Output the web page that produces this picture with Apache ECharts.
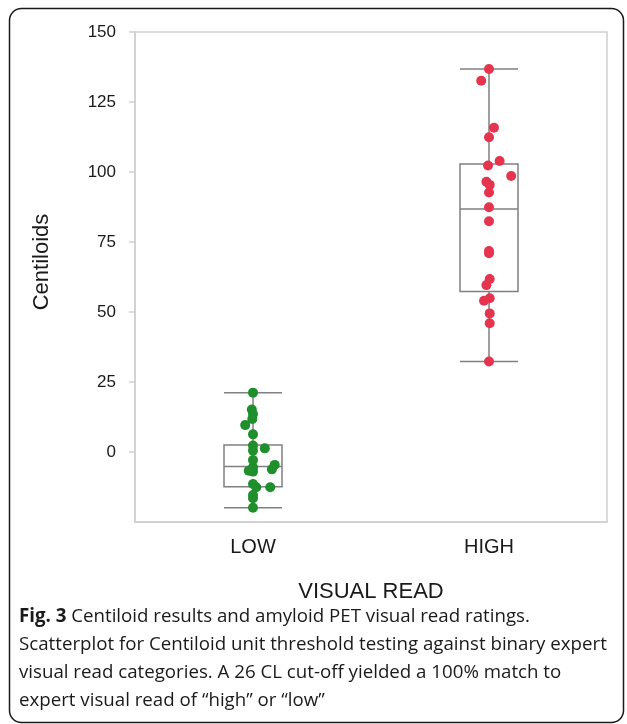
<!DOCTYPE html>
<html>
<head>
<meta charset="utf-8">
<script src="https://cdn.jsdelivr.net/npm/echarts@6/dist/echarts.min.js"></script>
<style>
html,body{margin:0;padding:0;background:#fff;}
#chart{width:627px;height:724px;}
</style>
</head>
<body>
<div id="chart"></div>
<script>
// ---- Data ----
var categories = ['LOW', 'HIGH'];
var yTicks = [0, 25, 50, 75, 100, 125, 150];

// Box summaries: [min, Q1, median, Q3, max]
var lowBox = [-19.9, -12.4, -5.2, 2.5, 21.2];
var highBox = [32.3, 57.3, 86.8, 102.9, 136.8];

// Individual points (Centiloids) and horizontal jitter (fraction of category band)
var lowValues  = [21.2, 15.2, 13.6, 11.8, 9.6, 6.3, 2.3, 1.3, 0.5, -2.9, -4.6, -5.5, -6.2, -6.7, -7.0, -11.4, -12.6, -12.6, -15.4, -16.5, -19.9];
var lowJitter  = [0, -0.005, 0, -0.003, -0.033, 0, 0, 0.050, 0, 0, 0.092, 0, 0.080, -0.018, 0, 0, 0.014, 0.073, 0, 0, 0];
var highValues = [136.8, 132.6, 115.8, 112.4, 103.9, 102.3, 98.6, 96.5, 95.4, 92.7, 87.4, 82.4, 71.8, 71.0, 61.8, 59.6, 54.9, 54.0, 49.5, 46.0, 32.3];
var highJitter = [0, -0.033, 0.021, 0, 0.045, -0.004, 0.094, -0.011, 0.003, 0, 0, 0, 0, 0, 0.003, -0.011, 0.003, -0.021, 0.003, 0.003, 0];

var captionLines = [
  ['Fig. 3', ' Centiloid results and amyloid PET visual read ratings.'],
  ['', 'Scatterplot for Centiloid unit threshold testing against binary expert'],
  ['', 'visual read categories. A 26 CL cut-off yielded a 100% match to'],
  ['', 'expert visual read of \u201chigh\u201d or \u201clow\u201d']
];

function points(values, jitter, idx) {
  return values.map(function (v, i) { return [idx + 0.5 + jitter[i], v]; });
}

var captionText = captionLines.map(function (l) {
  return (l[0] ? '{b|' + l[0] + '}' : '') + '{n|' + l[1] + '}';
}).join('\n');

var chart = echarts.init(document.getElementById('chart'), null, {renderer: 'canvas'});
var axisFont = 'Liberation Sans, Arial, sans-serif';
chart.setOption({
  animation: false,
  backgroundColor: '#fff',
  grid: {
    left: 135, top: 32, right: 20, bottom: 202,
    show: true, borderColor: '#cfcfcf', borderWidth: 1.5, backgroundColor: '#fff'
  },
  xAxis: [{
    type: 'category',
    data: categories,
    boundaryGap: true,
    axisLine: {show: true, onZero: false, lineStyle: {color: '#cfcfcf', width: 1.5}},
    axisTick: {show: false},
    axisLabel: {color: '#1a1a1a', fontSize: 20, fontFamily: axisFont, margin: 15},
    name: 'VISUAL READ',
    nameLocation: 'middle',
    nameGap: 59,
    nameTextStyle: {color: '#1a1a1a', fontSize: 22, fontFamily: axisFont}
  }, {
    type: 'value',
    min: 0, max: 2,
    show: false
  }],
  yAxis: {
    type: 'value',
    min: -25, max: 150, interval: 25,
    axisLine: {show: true, lineStyle: {color: '#cfcfcf', width: 1.5}},
    axisTick: {show: true, length: 6, lineStyle: {color: '#cfcfcf', width: 1.5},
      customValues: yTicks},
    axisLabel: {color: '#1a1a1a', fontSize: 17, fontFamily: axisFont, margin: 19,
      customValues: yTicks,
      formatter: function (v) { return yTicks.indexOf(v) >= 0 ? String(v) : ''; }},
    splitLine: {show: false},
    name: 'Centiloids',
    nameLocation: 'middle',
    nameGap: 82,
    nameRotate: 90,
    nameTextStyle: {color: '#1a1a1a', fontSize: 22, fontFamily: axisFont, padding: [0, 0, 0, 30]}
  },
  series: [{
    type: 'boxplot',
    xAxisIndex: 0,
    data: [lowBox, highBox],
    boxWidth: [58, 58],
    itemStyle: {color: 'rgba(255,255,255,0)', borderColor: '#808080', borderWidth: 1.5},
    emphasis: {disabled: true},
    z: 2
  }, {
    type: 'scatter',
    xAxisIndex: 1,
    data: points(lowValues, lowJitter, 0),
    symbol: 'circle',
    symbolSize: 10,
    itemStyle: {color: '#1f8f2c', opacity: 1},
    z: 3
  }, {
    type: 'scatter',
    xAxisIndex: 1,
    data: points(highValues, highJitter, 1),
    symbol: 'circle',
    symbolSize: 10,
    itemStyle: {color: '#e6344f', opacity: 1},
    z: 3
  }],
  graphic: [{
    type: 'rect',
    shape: {x: 9.5, y: 8.5, width: 614, height: 714, r: 12},
    style: {fill: null, stroke: '#1a1a1a', lineWidth: 1.5},
    z: 10,
    silent: true
  }, {
    type: 'text',
    left: 19,
    top: 607,
    style: {
      text: captionText,
      rich: {
        b: {fontFamily: 'Open Sans, sans-serif', fontSize: 18.7, fontWeight: 'bold', fill: '#1a1a1a', lineHeight: 28},
        n: {fontFamily: 'Open Sans, sans-serif', fontSize: 18.7, fill: '#1a1a1a', lineHeight: 28}
      }
    },
    z: 10
  }]
});
</script>
</body>
</html>
